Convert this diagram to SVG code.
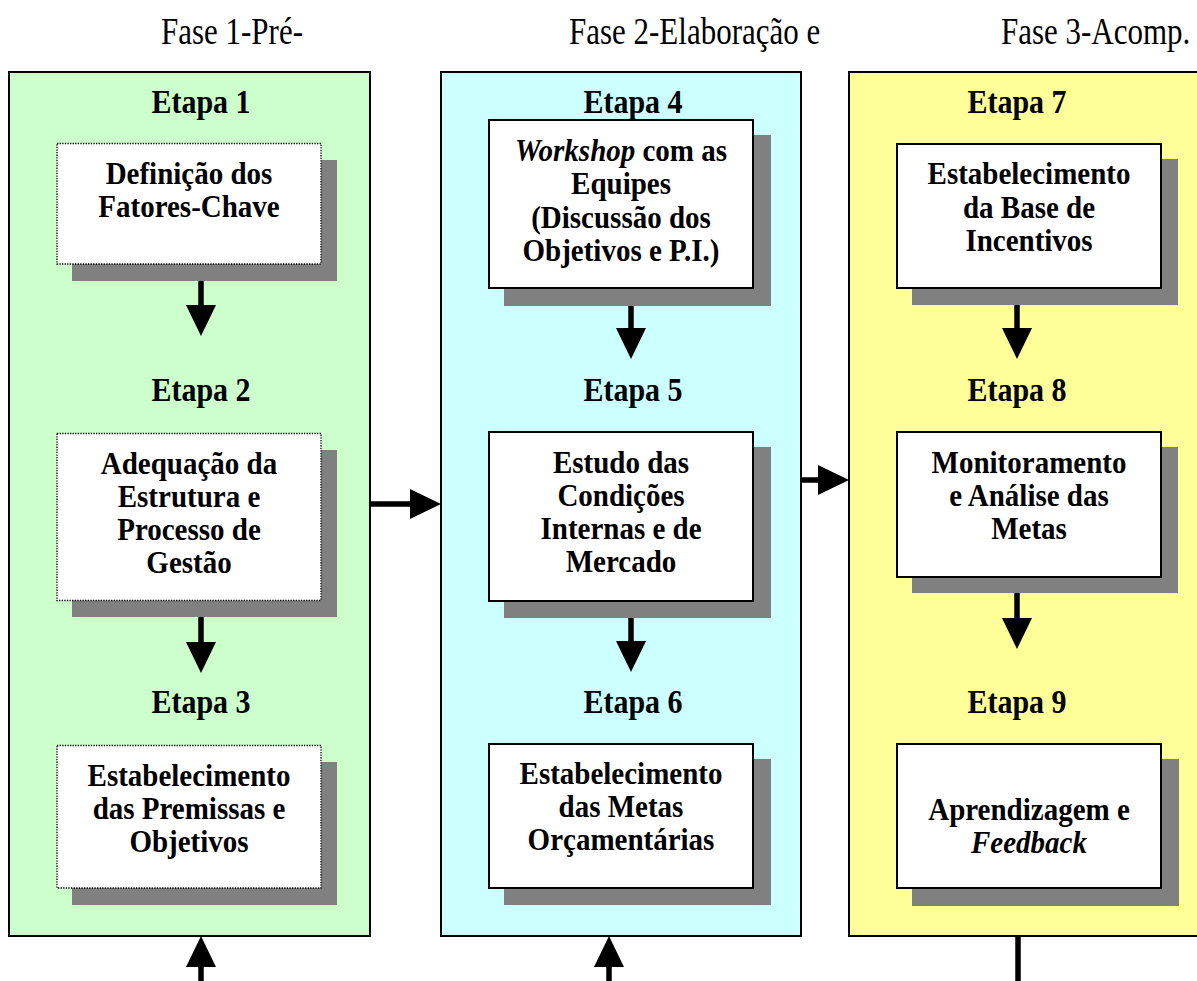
<svg xmlns="http://www.w3.org/2000/svg" width="1197" height="981" viewBox="0 0 1197 981">
  <style>
    .phase { font-family: "Liberation Serif", "Times New Roman", serif; font-size: 31px; fill: #000; }
    .etapa { font-family: "Liberation Serif", "Times New Roman", serif; font-size: 30px; font-weight: bold; fill: #000; text-anchor: middle; }
    .lbl { font-family: "Liberation Serif", "Times New Roman", serif; font-size: 29px; font-weight: bold; fill: #000; text-anchor: middle; }
    .it { font-style: italic; }
    .panel { stroke: #000; stroke-width: 2; }
    .shadow { fill: #808080; }
    .box { fill: #fff; stroke: #000; stroke-width: 2; }
    .box-dot { fill: #fff; stroke: #000; stroke-width: 1.3; stroke-dasharray: 1.3 1.3; }
    .conn { stroke: #000; stroke-width: 5.5; fill: none; }
  </style>
  <defs>
    <marker id="head" markerUnits="userSpaceOnUse" markerWidth="31" markerHeight="30" refX="0" refY="15" orient="auto">
      <path d="M0,0 L31,15 L0,30 Z" fill="#000"/>
    </marker>
  </defs>

  <rect width="1197" height="981" fill="#fff"/>

  <!-- phase headings (glyphs drawn slightly taller than wide) -->
  <g id="headings">
    <text class="phase" transform="translate(161 44) scale(1 1.22)">Fase 1-Pré-</text>
    <text class="phase" transform="translate(569 44) scale(1 1.22)">Fase 2-Elaboração e</text>
    <text class="phase" transform="translate(1001 44) scale(1 1.22)">Fase 3-Acomp.</text>
  </g>

  <!-- phase panels -->
  <g id="panel-1"><rect class="panel" x="9" y="72" width="361" height="864" fill="#CCFFCC"/></g>
  <g id="panel-2"><rect class="panel" x="441" y="72" width="360" height="864" fill="#CCFFFF"/></g>
  <g id="panel-3"><rect class="panel" x="849" y="72" width="360" height="864" fill="#FFFF99"/></g>

  <!-- connectors -->
  <g id="connectors">
    <line class="conn" x1="201" y1="264" x2="201" y2="305" marker-end="url(#head)"/>
    <line class="conn" x1="201" y1="601" x2="201" y2="642" marker-end="url(#head)"/>
    <line class="conn" x1="631" y1="288" x2="631" y2="328" marker-end="url(#head)"/>
    <line class="conn" x1="631" y1="601" x2="631" y2="641" marker-end="url(#head)"/>
    <line class="conn" x1="1017" y1="288" x2="1017" y2="328" marker-end="url(#head)"/>
    <line class="conn" x1="1017" y1="577" x2="1017" y2="618" marker-end="url(#head)"/>
    <line class="conn" x1="370" y1="504" x2="410" y2="504" marker-end="url(#head)"/>
    <line class="conn" x1="801" y1="480" x2="818" y2="480" marker-end="url(#head)"/>
    <line class="conn" x1="201" y1="981" x2="201" y2="967" marker-end="url(#head)"/>
    <line class="conn" x1="609" y1="981" x2="609" y2="967" marker-end="url(#head)"/>
    <line class="conn" x1="1018" y1="936" x2="1018" y2="981"/>
  </g>

  <!-- phase 1 steps -->
  <g id="etapa-1">
    <text class="etapa" transform="translate(201 113) scale(1 1.1)">Etapa 1</text>
    <rect class="shadow" x="72" y="160" width="265" height="121"/>
    <rect class="box-dot" x="57" y="143.5" width="264" height="120.5"/>
    <text class="lbl" transform="translate(189 184) scale(1 1.08)">Definição dos</text>
    <text class="lbl" transform="translate(189 217) scale(1 1.08)">Fatores-Chave</text>
  </g>
  <g id="etapa-2">
    <text class="etapa" transform="translate(201 401) scale(1 1.1)">Etapa 2</text>
    <rect class="shadow" x="72" y="450" width="265" height="167"/>
    <rect class="box-dot" x="57" y="433.5" width="264" height="167"/>
    <text class="lbl" transform="translate(189 474) scale(1 1.08)">Adequação da</text>
    <text class="lbl" transform="translate(189 507) scale(1 1.08)">Estrutura e</text>
    <text class="lbl" transform="translate(189 540) scale(1 1.08)">Processo de</text>
    <text class="lbl" transform="translate(189 573) scale(1 1.08)">Gestão</text>
  </g>
  <g id="etapa-3">
    <text class="etapa" transform="translate(201 713) scale(1 1.1)">Etapa 3</text>
    <rect class="shadow" x="72" y="762" width="265" height="143"/>
    <rect class="box-dot" x="57" y="745.5" width="264" height="142.5"/>
    <text class="lbl" transform="translate(189 786) scale(1 1.08)">Estabelecimento</text>
    <text class="lbl" transform="translate(189 819) scale(1 1.08)">das Premissas e</text>
    <text class="lbl" transform="translate(189 852) scale(1 1.08)">Objetivos</text>
  </g>

  <!-- phase 2 steps -->
  <g id="etapa-4">
    <text class="etapa" transform="translate(633 113) scale(1 1.1)">Etapa 4</text>
    <rect class="shadow" x="504" y="135" width="267" height="171"/>
    <rect class="box" x="489" y="120" width="264" height="168"/>
    <text class="lbl" transform="translate(621 161) scale(1 1.08)"><tspan class="it">Workshop</tspan> com as</text>
    <text class="lbl" transform="translate(621 194) scale(1 1.08)">Equipes</text>
    <text class="lbl" transform="translate(621 228) scale(1 1.08)">(Discussão dos</text>
    <text class="lbl" transform="translate(621 261) scale(1 1.08)">Objetivos e P.I.)</text>
  </g>
  <g id="etapa-5">
    <text class="etapa" transform="translate(633 401) scale(1 1.1)">Etapa 5</text>
    <rect class="shadow" x="504" y="447" width="267" height="171"/>
    <rect class="box" x="489" y="432" width="264" height="169"/>
    <text class="lbl" transform="translate(621 473) scale(1 1.08)">Estudo das</text>
    <text class="lbl" transform="translate(621 506) scale(1 1.08)">Condições</text>
    <text class="lbl" transform="translate(621 539) scale(1 1.08)">Internas e de</text>
    <text class="lbl" transform="translate(621 572) scale(1 1.08)">Mercado</text>
  </g>
  <g id="etapa-6">
    <text class="etapa" transform="translate(633 713) scale(1 1.1)">Etapa 6</text>
    <rect class="shadow" x="504" y="759" width="267" height="146"/>
    <rect class="box" x="489" y="744" width="264" height="144"/>
    <text class="lbl" transform="translate(621 784) scale(1 1.08)">Estabelecimento</text>
    <text class="lbl" transform="translate(621 817) scale(1 1.08)">das Metas</text>
    <text class="lbl" transform="translate(621 850) scale(1 1.08)">Orçamentárias</text>
  </g>

  <!-- phase 3 steps -->
  <g id="etapa-7">
    <text class="etapa" transform="translate(1017 113) scale(1 1.1)">Etapa 7</text>
    <rect class="shadow" x="912" y="159" width="266" height="146"/>
    <rect class="box" x="897" y="144" width="264" height="144"/>
    <text class="lbl" transform="translate(1029 184) scale(1 1.08)">Estabelecimento</text>
    <text class="lbl" transform="translate(1029 218) scale(1 1.08)">da Base de</text>
    <text class="lbl" transform="translate(1029 251) scale(1 1.08)">Incentivos</text>
  </g>
  <g id="etapa-8">
    <text class="etapa" transform="translate(1017 401) scale(1 1.1)">Etapa 8</text>
    <rect class="shadow" x="912" y="447" width="266" height="146"/>
    <rect class="box" x="897" y="432" width="264" height="145"/>
    <text class="lbl" transform="translate(1029 473) scale(1 1.08)">Monitoramento</text>
    <text class="lbl" transform="translate(1029 506) scale(1 1.08)">e Análise das</text>
    <text class="lbl" transform="translate(1029 539) scale(1 1.08)">Metas</text>
  </g>
  <g id="etapa-9">
    <text class="etapa" transform="translate(1017 713) scale(1 1.1)">Etapa 9</text>
    <rect class="shadow" x="912" y="759" width="267" height="147"/>
    <rect class="box" x="897" y="744" width="264" height="144"/>
    <text class="lbl" transform="translate(1029 820) scale(1 1.08)">Aprendizagem e</text>
    <text class="lbl" transform="translate(1029 853) scale(1 1.08)"><tspan class="it">Feedback</tspan></text>
  </g>
</svg>
